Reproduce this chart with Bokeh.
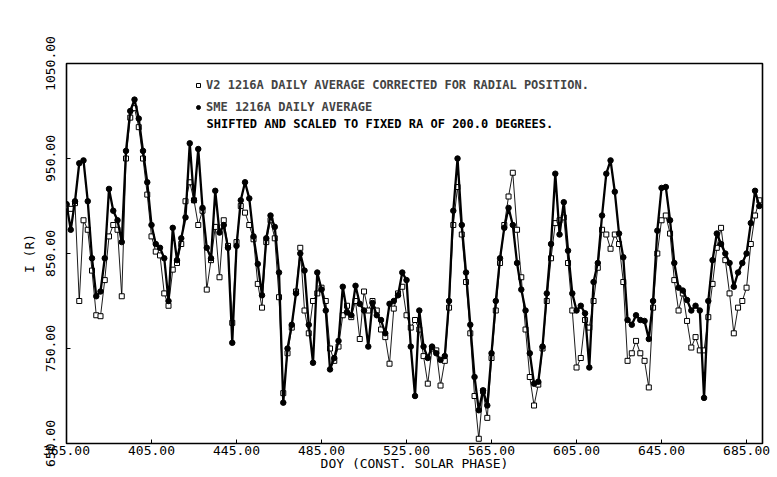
from bokeh.plotting import figure
from bokeh.models import Range1d, FixedTicker, PrintfTickFormatter, Legend, LegendItem, Label
from bokeh.embed import file_html
from bokeh.resources import INLINE

# Day of year (constant solar phase), every second day
days = list(range(365, 692, 2))

# V2 1216A daily average corrected for radial position (Rayleighs)
v2 = [
    900, 897, 903, 800, 885, 875, 832, 785, 784, 822,
    868, 880, 875, 805, 950, 993, 1003, 983, 950, 912,
    868, 852, 848, 808, 795, 833, 840, 860, 905, 925,
    906, 880, 895, 812, 843, 878, 825, 885, 858, 777,
    862, 900, 893, 880, 865, 818, 793, 862, 885, 866,
    804, 703, 745, 772, 810, 856, 790, 766, 800, 808,
    814, 800, 750, 737, 752, 785, 795, 783, 800, 760,
    810, 790, 800, 790, 770, 762, 734, 792, 808, 815,
    785, 772, 780, 770, 742, 713, 750, 748, 711, 737,
    793, 880, 920, 870, 820, 766, 700, 655, 705, 677,
    740, 790, 840, 880, 910, 935, 875, 825, 770, 720,
    690, 712, 750, 800, 845, 882, 885, 888, 840, 790,
    730, 740, 780, 772, 800, 835, 875, 870, 855, 870,
    860, 820, 737, 745, 758, 745, 737, 709, 793, 850,
    885, 890, 871, 822, 790, 808, 779, 751, 762, 748,
    748, 783, 818, 856, 877, 843, 808, 766, 793, 800,
    814, 860, 890, 906,
]

# SME 1216A daily average, shifted and scaled to fixed RA of 200 deg
sme = [
    902, 875, 905, 945, 948, 905, 845, 805, 810, 845,
    918, 895, 885, 862, 958, 1000, 1012, 992, 958, 925,
    880, 860, 856, 845, 800, 877, 843, 866, 888, 966,
    906, 960, 898, 856, 845, 916, 872, 880, 856, 756,
    858, 906, 925, 908, 868, 839, 806, 866, 890, 878,
    830, 693, 750, 775, 808, 850, 832, 775, 735, 830,
    812, 790, 728, 740, 758, 815, 788, 785, 816, 797,
    790, 752, 798, 785, 780, 766, 797, 800, 806, 830,
    822, 752, 700, 790, 752, 740, 752, 745, 738, 742,
    800, 895, 950, 880, 830, 775, 720, 685, 706, 690,
    745, 800, 845, 877, 898, 880, 840, 812, 790, 745,
    713, 715, 752, 808, 860, 934, 870, 904, 853, 808,
    790, 795, 787, 730, 820, 840, 890, 934, 948, 915,
    871, 846, 780, 775, 785, 780, 779, 760, 800, 874,
    919, 920, 885, 840, 814, 811, 801, 790, 795, 790,
    698, 800, 843, 871, 860, 850, 840, 815, 830, 840,
    850, 882, 916, 900,
]

x_ticks = [365, 405, 445, 485, 525, 565, 605, 645, 685]
y_ticks = [650, 750, 850, 950, 1050]

label_v2 = "V2 1216A DAILY AVERAGE CORRECTED FOR RADIAL POSITION."
label_sme = "SME 1216A DAILY AVERAGE"
label_sme2 = "SHIFTED AND SCALED TO FIXED RA OF 200.0 DEGREES."

FONT = "DejaVu Sans Mono"

p = figure(width=777, height=477, output_backend="svg", toolbar_location=None,
           x_range=Range1d(365, 692.5), y_range=Range1d(650, 1050),
           min_border_left=66, min_border_right=15, min_border_top=63, min_border_bottom=34,
           background_fill_color="white", border_fill_color="white")
p.grid.visible = False
p.outline_line_color = "black"
p.outline_line_width = 1.6

for ax in (p.xaxis[0], p.yaxis[0]):
    ax.axis_line_color = None
    ax.major_tick_in = 4
    ax.major_tick_out = 0
    ax.minor_tick_line_color = None
    ax.major_label_text_font = FONT
    ax.axis_label_text_font = FONT
    ax.axis_label_text_font_style = "normal"
    ax.major_label_text_color = "black"
    ax.axis_label_text_color = "black"
    ax.formatter = PrintfTickFormatter(format="%.2f")

p.xaxis.ticker = FixedTicker(ticks=x_ticks)
p.yaxis.ticker = FixedTicker(ticks=y_ticks)
p.xaxis.axis_label = "DOY (CONST. SOLAR PHASE)"
p.yaxis.axis_label = "I (R)"
p.xaxis.major_label_text_font_size = "13px"
p.xaxis.axis_label_text_font_size = "13px"
p.xaxis.major_label_standoff = 2
p.xaxis.axis_label_standoff = -2
p.yaxis.major_label_text_font_size = "13px"
p.yaxis.axis_label_text_font_size = "13px"
p.yaxis.major_label_orientation = "vertical"
p.yaxis.major_label_standoff = 12
p.yaxis.axis_label_standoff = 6

p.line(days, v2, line_color="black", line_width=0.9)
v2_pts = p.scatter(days, v2, marker="square", size=5, fill_color="white",
                   line_color="black", line_width=1)
p.line(days, sme, line_color="black", line_width=2.3)
sme_pts = p.scatter(days, sme, marker="circle", size=5.5, fill_color="black",
                    line_color="black")

legend = Legend(items=[LegendItem(label=label_v2, renderers=[v2_pts]),
                       LegendItem(label=label_sme, renderers=[sme_pts])],
                location=(127, 329), orientation="vertical",
                border_line_color=None, background_fill_alpha=0,
                label_text_font=FONT, label_text_font_size="12px",
                label_text_font_style="bold",
                glyph_width=10, glyph_height=14, label_height=14,
                label_standoff=3, spacing=8, padding=0, margin=0)
p.add_layout(legend)

p.add_layout(Label(x=140, y=320, x_units="screen", y_units="screen", text=label_sme2,
                   text_font=FONT, text_font_size="12px", text_font_style="bold",
                   text_baseline="middle", text_color="black"))

open("out.html", "w").write(file_html(p, INLINE))
